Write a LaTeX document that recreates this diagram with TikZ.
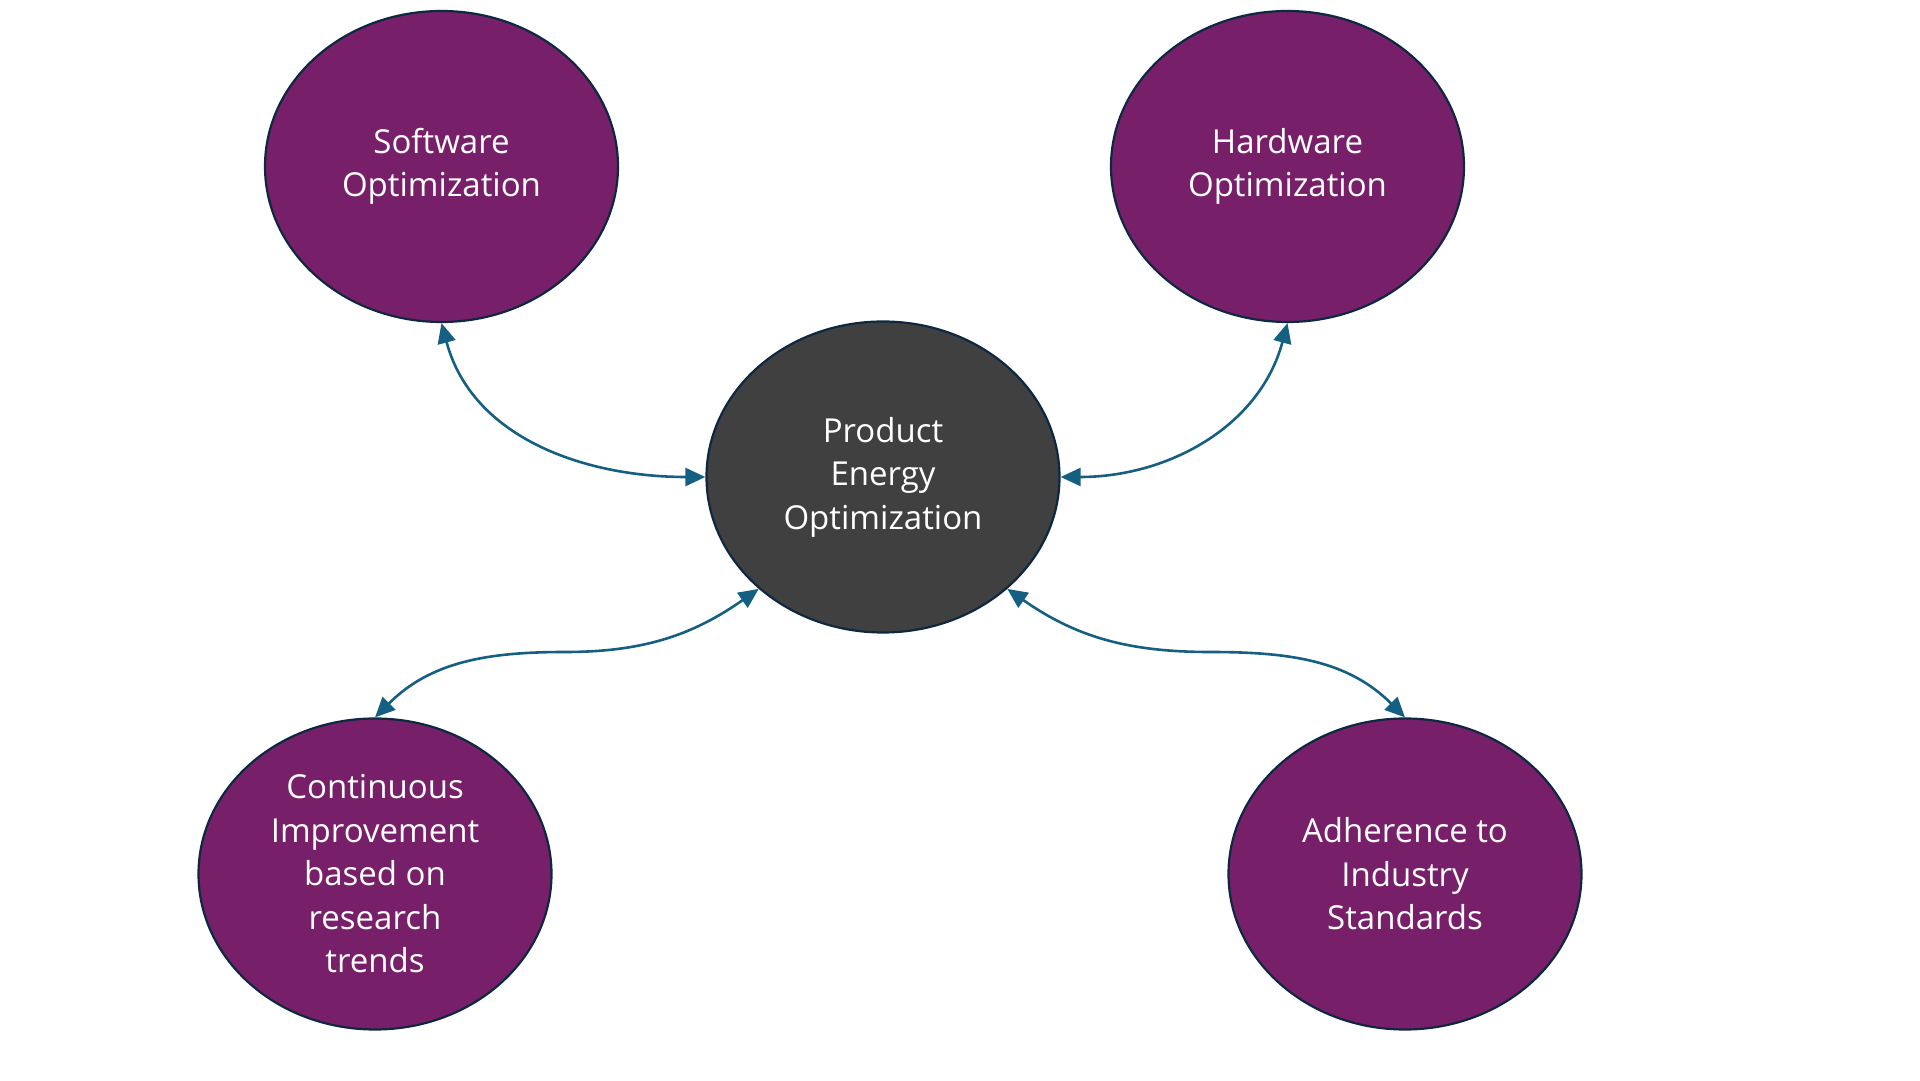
\documentclass[tikz,border=0pt]{standalone}
\usepackage{fontspec}
\setmainfont{Open Sans}
\usetikzlibrary{shapes.geometric,arrows.meta}
\definecolor{bubble}{HTML}{781F6A}
\definecolor{core}{HTML}{404040}
\definecolor{rim}{HTML}{0E2841}
\definecolor{link}{HTML}{156082}
\begin{document}
\begin{tikzpicture}[x=1pt,y=1pt,
  bub/.style={ellipse, draw=rim, line width=2.2pt, fill=bubble, text=white,
    minimum width=353pt, minimum height=311pt, inner sep=0pt, align=center,
    font=\fontsize{33}{43.5}\selectfont},
  hub/.style={bub, fill=core},
  conn/.style={draw=link, line width=2.6pt, {Triangle[length=20pt,width=18pt]}-{Triangle[length=20pt,width=18pt]}}
]
\useasboundingbox (0,0) rectangle (1920,1080);
\fill[white] (0,0) rectangle (1920,1080);
\node[bub] (soft) at (441.5,913.5) {Software\\Optimization};
\node[bub] (hard) at (1287.5,913.5) {Hardware\\Optimization};
\node[hub] (cen) at (883,603) {Product\\Energy\\Optimization};
\node[bub] (cont) at (375,206) {Continuous\\Improvement\\based on\\research\\trends};
\node[bub] (adh) at (1405,206) {Adherence to\\Industry\\Standards};
\coordinate (m1) at (565,428);
\coordinate (m2) at (1210,428);
\draw[conn] (soft.south) to[out=-75,in=180] (cen.west);
\draw[conn] (hard.south) to[out=-105,in=0] (cen.east);
\draw[conn] (cen.-138) to[out=-145,in=0] (m1) to[out=180,in=45] (cont.north);
\draw[conn] (cen.-42) to[out=-35,in=180] (m2) to[out=0,in=135] (adh.north);
\end{tikzpicture}
\end{document}
